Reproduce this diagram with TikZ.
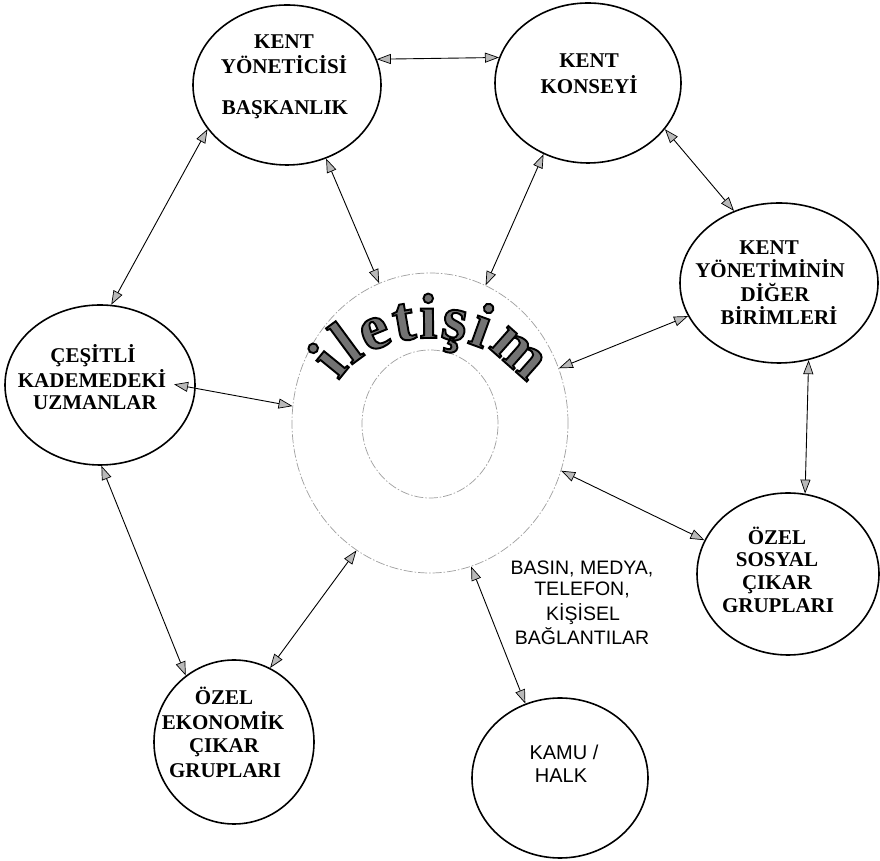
\documentclass[tikz,border=0pt]{standalone}
\usepackage{fontspec}
\setmainfont{Liberation Serif}
\newfontfamily\mediafont{Liberation Sans}
\newfontfamily\arcfont{Liberation Serif Bold}[FakeBold=3]
\usetikzlibrary{shapes.geometric,arrows.meta,decorations.text}

\tikzset{
  unit/.style={ellipse, draw=black, line width=1.6pt, inner sep=0pt},
  ring/.style={ellipse, draw=gray!75, line width=0.7pt,
    dash pattern=on 9pt off 2pt on 1.5pt off 2pt, inner sep=0pt},
  lbl/.style={font=\bfseries\fontsize{21}{24}\selectfont, anchor=base, inner sep=0pt},
  media/.style={font=\mediafont\fontsize{19.5}{22}\selectfont, anchor=base, inner sep=0pt},
  link/.style={draw=black, line width=0.9pt,
    >={Triangle[length=14pt,width=10pt,fill=gray!55,line width=0.7pt]}, <->},
}

\begin{document}
\begin{tikzpicture}[x=1pt,y=1pt]
\useasboundingbox[fill=white] (0,0) rectangle (880,861);

% the units around the communication ring
\node[unit, minimum width=188, minimum height=160] (yon) at (287,776) {};
\node[unit, minimum width=186, minimum height=160] (kon) at (588,778) {};
\node[unit, minimum width=198, minimum height=160] (dig) at (779,578) {};
\node[unit, minimum width=190, minimum height=160] (ces) at (100,476) {};
\node[unit, minimum width=182, minimum height=162] (sos) at (788,287) {};
\node[unit, minimum width=160, minimum height=164] (eko) at (234,119) {};
\node[unit, minimum width=176, minimum height=160] (kamu) at (560,83) {};

% central rings
\node[ring, minimum width=276, minimum height=300] (com) at (430,438) {};
\node[ring, minimum width=136, minimum height=148] (core) at (430,437) {};

% curved title along the ring, grey letters with a black outline
\path[decorate, decoration={text along path, text align=fit to path,
  text={|\arcfont\fontsize{64}{64}\selectfont\color{black!55}\special{pdf:code 0 G}|iletişim}}]
  ([yshift=13pt]com.center) ++(156:100 and 72)
  arc[start angle=156, end angle=20, x radius=100, y radius=72];

% labels
\node[lbl] (yon1) at (284,812) {KENT};
\node[lbl] (yon2) at (284,787) {YÖNETİCİSİ};
\node[lbl] (yon3) at (285,746) {BAŞKANLIK};

\node[lbl] (kon1) at (589,793) {KENT};
\node[lbl] (kon2) at (589,767) {KONSEYİ};

\node[lbl] (dig1) at (769,606) {KENT};
\node[lbl] (dig2) at (770,583) {YÖNETİMİNİN};
\node[lbl] (dig3) at (775,559) {DİĞER};
\node[lbl] (dig4) at (779,536) {BİRİMLERİ};

\node[lbl] (ces1) at (93,498) {ÇEŞİTLİ};
\node[lbl] (ces2) at (92,473) {KADEMEDEKİ};
\node[lbl] (ces3) at (95,451) {UZMANLAR};

\node[lbl] (sos1) at (777,316) {ÖZEL};
\node[lbl] (sos2) at (777,294) {SOSYAL};
\node[lbl] (sos3) at (777,271) {ÇIKAR};
\node[lbl] (sos4) at (778,248) {GRUPLARI};

\node[lbl] (eko1) at (224,156) {ÖZEL};
\node[lbl] (eko2) at (223,131) {EKONOMİK};
\node[lbl] (eko3) at (224,108) {ÇIKAR};
\node[lbl] (eko4) at (225,83) {GRUPLARI};

\node[media, font=\mediafont\fontsize{20}{24}\selectfont] (kamu1) at (564,101) {KAMU /};
\node[media, font=\mediafont\fontsize{20}{24}\selectfont] (kamu2) at (561,78) {HALK};

\node[media] (med1) at (582,286) {BASIN, MEDYA,};
\node[media] (med2) at (582,265) {TELEFON,};
\node[media] (med3) at (583,240) {KİŞİSEL};
\node[media] (med4) at (582,216) {BAĞLANTILAR};

% two-way links
\draw[link] (yon.16) -- (kon.164);
\draw[link] (yon.-151) -- (ces.82);
\draw[link] (yon.-62) -- (com.110);
\draw[link] (kon.-122) -- (com.68);
\draw[link] (kon.-31) -- (dig.122);
\draw[link] (dig.-160) -- (com.23);
\draw[link] (dig.-69) -- (sos.78);
\draw[link] (com.-20) -- (sos.158);
\draw[link, shorten <=-22pt] (ces.-2) -- (com.173);
\draw[link] (ces.-89) -- (eko.126);
\draw[link] (com.240) -- (eko.64);
\draw[link] (com.-74) -- (kamu.115);
\end{tikzpicture}
\end{document}
